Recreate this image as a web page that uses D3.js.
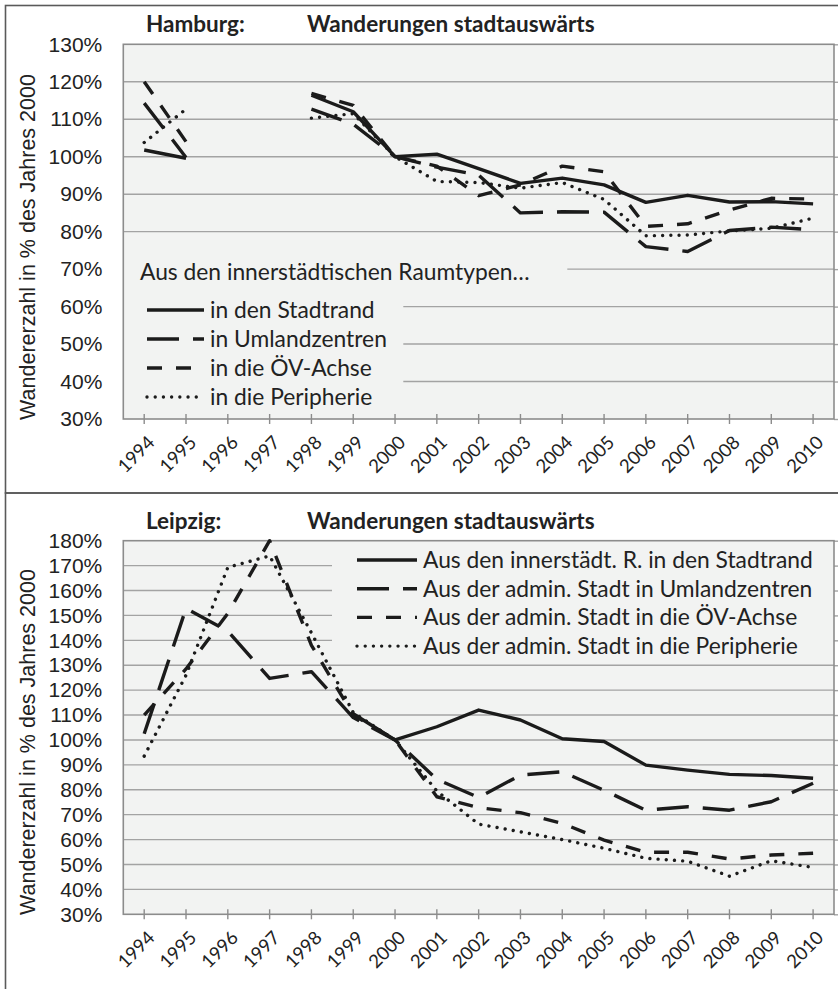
<!DOCTYPE html>
<html>
<head>
<meta charset="utf-8">
<script src="https://cdn.jsdelivr.net/npm/d3@7/dist/d3.min.js"></script>
<style>
  html, body { margin: 0; padding: 0; background: #fff; }
  svg { display: block; }
</style>
</head>
<body>
<svg id="chart" width="838" height="989"></svg>
<script>
// Jahre (Kategorien der x-Achse)
const years = ["1994","1995","1996","1997","1998","1999","2000","2001","2002",
               "2003","2004","2005","2006","2007","2008","2009","2010"];

// Hamburg: Wanderungen stadtauswärts, in % des Jahres 2000 (1996/1997 ohne Daten)
const hhStadtrand   = [101.8, 99.6, null, null, 116.4, 112.0, 100, 100.7, 96.8, 92.9, 94.3, 92.5, 87.8, 89.7, 87.9, 88.0, 87.4];
const hhUmland      = [114.3, 99.8, null, null, 112.7, 108.7, 100, 97.2, 95.1, 85.0, 85.3, 85.2, 76.0, 74.7, 80.3, 81.2, 80.5];
const hhOEV         = [120.0, 104.0, null, null, 116.9, 113.7, 100, 97.5, 89.6, 92.5, 97.5, 96.0, 81.4, 82.1, 85.8, 88.9, 88.7];
const hhPeripherie  = [103.8, 112.7, null, null, 110.3, 111.5, 100, 93.4, 93.1, 91.6, 93.1, 88.6, 78.9, 79.1, 80.2, 80.9, 83.6];

// Leipzig: Wanderungen stadtauswärts, in % des Jahres 2000
const lzStadtrand   = [null, null, null, null, null, 110.5, 100, 105.3, 112.0, 108.0, 100.5, 99.4, 89.9, 87.9, 86.2, 85.7, 84.6];
const lzUmland      = [102.5, 152.8, 143.7, 124.7, 127.4, 109.0, 100, 84.2, 76.9, 85.9, 87.2, 79.8, 71.8, 73.2, 71.8, 75.2, 82.6];
const lzOEV         = [110.0, 128.5, 150.8, 180.0, 138.0, 110.0, 100, 77.2, 72.8, 70.8, 66.5, 59.8, 54.9, 54.9, 52.2, 53.8, 54.5];
const lzPeripherie  = [93.5, 126.0, 169.3, 173.9, 143.0, 111.0, 100, 79.5, 66.2, 63.1, 60.0, 56.5, 52.5, 51.3, 45.3, 51.5, 48.8];

// Achsenbereiche
const hhYTicks = d3.range(30, 131, 10);
const lzYTicks = d3.range(30, 181, 10);

// Beschriftungen
const hhLegendHeader = "Aus den innerstädtischen Raumtypen…";
const hhLegendLabels = ["in den Stadtrand", "in Umlandzentren", "in die ÖV-Achse", "in die Peripherie"];
const lzLegendLabels = ["Aus den innerstädt. R. in den Stadtrand",
                        "Aus der admin. Stadt in Umlandzentren",
                        "Aus der admin. Stadt in die ÖV-Achse",
                        "Aus der admin. Stadt in die Peripherie"];
const yTitle = "Wandererzahl in % des Jahres 2000";
const subTitle = "Wanderungen stadtauswärts";

// Linienstile der vier Reihen
const seriesStyles = [
  { dash: null,        cap: "butt" },
  { dash: "32,14",     cap: "butt" },
  { dash: "15,14",     cap: "butt" },
  { dash: "0.01,8.2",  cap: "round" }
];

const svg = d3.select("#chart");
const FONT_UI = "Lato, 'Open Sans', sans-serif";
const FONT_AX = "'Liberation Sans', Arial, sans-serif";
const PLOT_BG = "#f2f3f2";
const GRID = "#a3a3a3";
const INK = "#1b1b1b";

// Rahmen der beiden Teilgrafiken
svg.append("rect").attr("x", 5.5).attr("y", 5.5).attr("width", 840).attr("height", 487.5)
  .attr("fill", "none").attr("stroke", "#5a5a5a").attr("stroke-width", 1.6);
svg.append("rect").attr("x", 5.5).attr("y", 493).attr("width", 840).attr("height", 500)
  .attr("fill", "none").attr("stroke", "#5a5a5a").attr("stroke-width", 1.6);

function drawPanel(opt) {
  const { left, top, right, bottom, yMin, yMax, ticks, series, city } = opt;
  const g = svg.append("g");
  const x = d3.scalePoint().domain(years).range([left, right]).padding(0.5);
  const y = d3.scaleLinear().domain([yMin, yMax]).range([bottom, top]);

  // Plotfläche
  g.append("rect").attr("x", left).attr("y", top).attr("width", right - left).attr("height", bottom - top)
    .attr("fill", PLOT_BG);

  // Gitternetzlinien
  g.append("g").selectAll("line").data(ticks.filter(t => t > yMin && t < yMax)).join("line")
    .attr("x1", left).attr("x2", right)
    .attr("y1", d => y(d)).attr("y2", d => y(d))
    .attr("stroke", GRID).attr("stroke-width", 1.4);

  // Hilfsstriche am rechten Rand
  const rAxis = g.append("g").attr("transform", `translate(${right},0)`)
    .call(d3.axisRight(y).tickValues(ticks).tickSize(5).tickFormat(""));
  rAxis.select(".domain").remove();
  rAxis.selectAll("line").attr("stroke", GRID).attr("stroke-width", 1.4);

  // Legendenhintergrund (verdeckt Gitterlinien)
  opt.legendBoxes.forEach(b => {
    g.append("rect").attr("x", b[0]).attr("y", b[1]).attr("width", b[2]).attr("height", b[3]).attr("fill", PLOT_BG);
  });

  // Plotrahmen
  g.append("rect").attr("x", left).attr("y", top).attr("width", right - left).attr("height", bottom - top)
    .attr("fill", "none").attr("stroke", "#8c8c8c").attr("stroke-width", 1.6);

  // y-Achse
  const yAxis = g.append("g").attr("transform", `translate(${left},0)`)
    .call(d3.axisLeft(y).tickValues(ticks).tickSize(0).tickPadding(21).tickFormat(d => d + "%"));
  yAxis.select(".domain").remove();
  yAxis.selectAll("text").attr("font-family", FONT_AX).attr("font-size", 21).attr("fill", "#222");

  // x-Achse mit kreuzenden Teilstrichen
  const xAxis = g.append("g").attr("transform", `translate(0,${bottom})`)
    .call(d3.axisBottom(x).tickSize(0).tickFormat(""));
  xAxis.select(".domain").remove();
  g.append("g").selectAll("line").data(years).join("line")
    .attr("x1", d => x(d)).attr("x2", d => x(d))
    .attr("y1", bottom - 5).attr("y2", bottom + 5)
    .attr("stroke", "#8c8c8c").attr("stroke-width", 1.4);
  g.append("g").selectAll("text").data(years).join("text")
    .attr("transform", d => `translate(${x(d) + 7},${bottom + 20}) rotate(-45)`)
    .attr("text-anchor", "end").attr("dy", "0.35em")
    .attr("font-family", FONT_UI).attr("font-size", 18.5).attr("fill", "#222")
    .text(d => d);

  // Datenlinien
  const line = d3.line()
    .defined(d => d.v != null)
    .x(d => x(d.year)).y(d => y(d.v));
  series.forEach((vals, i) => {
    const st = seriesStyles[i];
    g.append("path")
      .datum(years.map((yr, k) => ({ year: yr, v: vals[k] })))
      .attr("d", line)
      .attr("fill", "none").attr("stroke", INK).attr("stroke-width", 3.4)
      .attr("stroke-linejoin", "round")
      .attr("stroke-linecap", st.cap)
      .attr("stroke-dasharray", st.dash);
  });

  // Legende
  opt.legendLabels.forEach((lab, i) => {
    const st = seriesStyles[i];
    const ly = opt.legendY + i * opt.legendStep;
    g.append("line").attr("x1", opt.legendX).attr("x2", opt.legendX + opt.legendLen)
      .attr("y1", ly).attr("y2", ly)
      .attr("stroke", INK).attr("stroke-width", 3.4)
      .attr("stroke-linecap", st.cap).attr("stroke-dasharray", st.dash);
    g.append("text").attr("x", opt.legendX + opt.legendLen + 6).attr("y", ly).attr("dy", "0.35em")
      .attr("font-family", FONT_UI).attr("font-size", opt.legendFont).attr("fill", "#222")
      .text(lab);
  });

  // Titel
  g.append("text").attr("x", 146).attr("y", opt.titleY)
    .attr("font-family", FONT_UI).attr("font-weight", 700).attr("font-size", 22.5).attr("fill", "#222")
    .text(city);
  g.append("text").attr("x", 307).attr("y", opt.titleY)
    .attr("font-family", FONT_UI).attr("font-weight", 700).attr("font-size", 22.5).attr("fill", "#222")
    .text(subTitle);

  // Achsentitel
  g.append("text")
    .attr("transform", `translate(27,${opt.yTitleCenter}) rotate(-90)`)
    .attr("text-anchor", "middle").attr("dy", "0.35em")
    .attr("font-family", FONT_AX).attr("font-size", 21.5).attr("fill", "#222")
    .text(yTitle);

  return { x, y, g };
}

// Hamburg
const hh = drawPanel({
  left: 123.3, top: 44.3, right: 834, bottom: 419,
  yMin: 30, yMax: 130, ticks: hhYTicks,
  series: [hhStadtrand, hhUmland, hhOEV, hhPeripherie],
  city: "Hamburg:", titleY: 31.5, yTitleCenter: 247,
  legendBoxes: [[123.3, 254, 444, 30], [123.3, 289, 280, 130]],
  legendLabels: hhLegendLabels, legendX: 147, legendLen: 57, legendY: 310, legendStep: 29, legendFont: 22.8
});
hh.g.append("text").attr("x", 140).attr("y", 272).attr("dy", "0.35em")
  .attr("font-family", FONT_UI).attr("font-size", 22.8).attr("fill", "#222")
  .text(hhLegendHeader);

// Leipzig
drawPanel({
  left: 123.3, top: 540.7, right: 834, bottom: 914.3,
  yMin: 30, yMax: 180, ticks: lzYTicks,
  series: [lzStadtrand, lzUmland, lzOEV, lzPeripherie],
  city: "Leipzig:", titleY: 529, yTitleCenter: 742,
  legendBoxes: [[332, 541, 502, 114]],
  legendLabels: lzLegendLabels, legendX: 357, legendLen: 60, legendY: 560, legendStep: 28.7, legendFont: 22.8
});
</script>
</body>
</html>
